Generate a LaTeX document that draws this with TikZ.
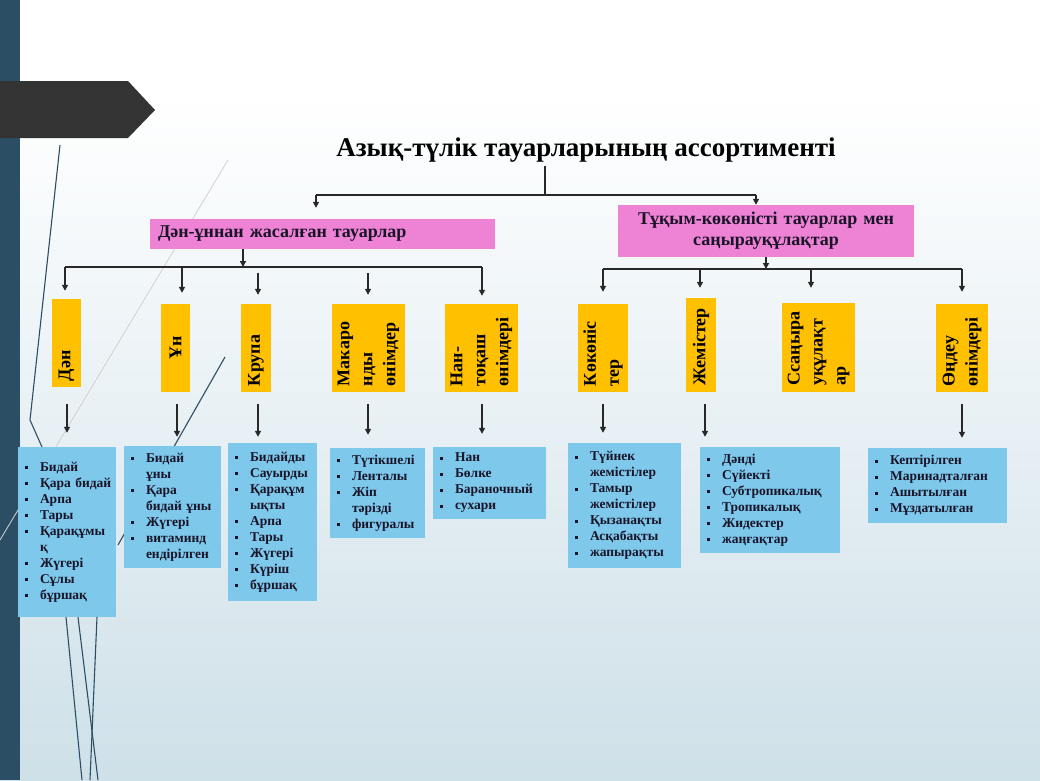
\documentclass[tikz,border=0pt]{standalone}
\usepackage{fontspec}
\setmainfont{Liberation Serif}
\usetikzlibrary{arrows.meta}
\definecolor{barc}{RGB}{44,78,100}
\definecolor{tagc}{RGB}{51,51,51}
\definecolor{pinkc}{RGB}{238,130,212}
\definecolor{orc}{RGB}{255,192,0}
\definecolor{bluec}{RGB}{125,200,235}
\definecolor{bgb}{RGB}{206,224,232}
\definecolor{txtc}{RGB}{25,20,40}
\definecolor{arrc}{RGB}{40,40,40}
\newcommand\bul{\rule[2pt]{3pt}{3pt}}
\newlength\indw \setlength\indw{15pt}
\newcommand\itm[1]{\makebox[\indw][l]{\bul}#1}
\newcommand\cnt[1]{\hspace*{\indw}#1}
\begin{document}
\begin{tikzpicture}[x=1pt,y=-1pt,
 arr/.style={draw=arrc, line width=1.4pt, -{Triangle[length=6pt,width=6pt]}},
 ln/.style={draw=arrc, line width=1.2pt},
 hdr/.style={fill=pinkc, inner sep=0pt, font=\fontsize{18}{21}\selectfont\bfseries, text=txtc},
 vbox/.style={fill=orc, rotate=90, inner xsep=6pt, inner ysep=0pt, font=\fontsize{18}{23}\selectfont\bfseries, align=left, text=black},
 lst/.style={fill=bluec, inner xsep=7pt, inner ysep=0pt, font=\fontsize{13.5}{16}\selectfont\bfseries, align=left, text=txtc},
 deco/.style={line width=1.1pt, draw=barc}
]
\useasboundingbox (0,0) rectangle (1040,780);
% background
\fill[white] (0,0) rectangle (1040,95);
\shade[top color=white, bottom color=bgb] (0,95) rectangle (1040,780);
\fill[barc] (0,0) rectangle (20,780);
\fill[tagc] (0,81) -- (128,81) -- (155,110) -- (128,138) -- (0,138) -- cycle;
% decorative lines
\draw[gray!35, line width=0.8pt] (228,160) -- (0,540);
\draw[deco] (60,145) -- (30,420) -- (42,447);
\draw[deco] (225,357) -- (118,545);
\draw[deco] (66,617) -- (82,780);
\draw[deco] (78,617) -- (98,780);
\draw[deco] (97,617) -- (90,780);

% title
\node[font=\fontsize{27}{31}\selectfont\bfseries, text=black] (title) at (586,150) {Азық-түлік тауарларының ассортименті};

% headers
\node[hdr, minimum width=345pt, minimum height=30pt, text width=329pt, inner xsep=8pt, align=left] (lhdr) at (322.5,234) {Дән-ұннан жасалған тауарлар};
\node[hdr, minimum width=296pt, minimum height=52pt, text width=290pt, align=center] (rhdr) at (766,231) {Тұқым-көкөністі тауарлар мен\\саңырауқұлақтар};

% vertical boxes (min width = box height, min height = box width)
\node[vbox, minimum width=88pt, minimum height=29pt, text width=76pt] (dan) at (66.5,343) {Дән};
\node[vbox, minimum width=88pt, minimum height=29pt, text width=76pt, align=center] (un) at (175.5,348) {Ұн};
\node[vbox, minimum width=88pt, minimum height=30pt, text width=76pt] (krupa) at (256,348) {Крупа};
\node[vbox, minimum width=88pt, minimum height=73pt, text width=76pt] (makaron) at (368.5,348) {Макаро\\нды\\өнімдер};
\node[vbox, minimum width=88pt, minimum height=73pt, text width=76pt] (nan) at (481.5,348) {Нан-\\тоқаш\\өнімдері};
\node[vbox, minimum width=88pt, minimum height=50pt, text width=76pt] (kok) at (603,348) {Көкөніс\\\hspace*{0pt}тер};
\node[vbox, minimum width=94pt, minimum height=30pt, text width=80pt] (zhem) at (701,345) {Жемістер};
\node[vbox, minimum width=89pt, minimum height=73pt, text width=76pt] (sany) at (818.5,347.5) {Ссаңыра\\уқұлақт\\ар};
\node[vbox, minimum width=88pt, minimum height=52pt, text width=76pt] (ondeu) at (962,348) {Өңдеу\\өнімдері};

% lists
\node[lst, minimum width=98pt, minimum height=170pt, text width=84pt] (l1) at (67,532)
 {\itm{Бидай}\\\itm{Қара~бидай}\\\itm{Арпа}\\\itm{Тары}\\\itm{Қарақұмы}\\\cnt{қ}\\\itm{Жүгері}\\\itm{Сұлы}\\\itm{бұршақ}};
\node[lst, minimum width=97pt, minimum height=122pt, text width=83pt] (l2) at (172.5,507)
 {\itm{Бидай}\\\cnt{ұны}\\\itm{Қара}\\\cnt{бидай~ұны}\\\itm{Жүгері}\\\itm{витаминд}\\\cnt{ендірілген}};
\node[lst, minimum width=89pt, minimum height=158pt, text width=75pt] (l3) at (272.5,522)
 {\itm{Бидайды}\\\itm{Сауырды}\\\itm{Қарақұм}\\\cnt{ықты}\\\itm{Арпа}\\\itm{Тары}\\\itm{Жүгері}\\\itm{Күріш}\\\itm{бұршақ}};
\node[lst, minimum width=95pt, minimum height=90pt, text width=81pt] (l4) at (377.5,493)
 {\itm{Түтікшелі}\\\itm{Ленталы}\\\itm{Жіп}\\\cnt{тәрізді}\\\itm{фигуралы}};
\node[lst, minimum width=113pt, minimum height=72pt, text width=99pt] (l5) at (489.5,483)
 {\itm{Нан}\\\itm{Бөлке}\\\itm{Бараночный}\\\itm{сухари}};
\node[lst, minimum width=113pt, minimum height=125pt, text width=99pt] (l6) at (624.5,505.5)
 {\itm{Түйнек}\\\cnt{жемістілер}\\\itm{Тамыр}\\\cnt{жемістілер}\\\itm{Қызанақты}\\\itm{Асқабақты}\\\itm{жапырақты}};
\node[lst, minimum width=140pt, minimum height=106pt, text width=126pt] (l7) at (770,500)
 {\itm{Дәнді}\\\itm{Сүйекті}\\\itm{Субтропикалық}\\\itm{Тропикалық}\\\itm{Жидектер}\\\itm{жаңғақтар}};
\node[lst, minimum width=139pt, minimum height=75pt, text width=125pt] (l8) at (937.5,485.5)
 {\itm{Кептірілген}\\\itm{Маринадталған}\\\itm{Ашытылған}\\\itm{Мұздатылған}};

% top-level connectors
\coordinate (tj) at (545,195);
\coordinate (tl) at (316,195);
\coordinate (tr) at (756,195);
\draw[ln] (title.south -| tj) -- (tj);
\draw[ln] (tl) -- (tr);
\draw[arr, shorten >=11pt] (tl) -- (tl |- lhdr.north);
\draw[arr] (tr) -- (tr |- rhdr.north);

% left branch
\coordinate (lj) at (243,267);
\coordinate (lb1) at (65,267);
\coordinate (lb5) at (482,267);
\draw[arr] (lhdr.south -| lj) -- (lj);
\draw[ln] (lb1) -- (lb5);
\draw[arr, shorten >=8pt] (lb1) -- (lb1 |- dan.east);
\coordinate (lb2) at (182,267);
\draw[arr, shorten >=11pt] (lb2) -- (lb2 |- un.east);
\coordinate (lb3) at (258,273);
\draw[arr, shorten >=9pt] (lb3) -- (lb3 |- krupa.east);
\coordinate (lb4) at (368,273);
\draw[arr, shorten >=9pt] (lb4) -- (lb4 |- makaron.east);
\draw[arr, shorten >=8pt] (lb5) -- (lb5 |- nan.east);

% right branch
\coordinate (rj) at (766,269);
\coordinate (rb1) at (603,269);
\coordinate (rb4) at (962,269);
\draw[arr] (rhdr.south -| rj) -- (rj);
\draw[ln] (rb1) -- (rb4);
\draw[arr, shorten >=12pt] (rb1) -- (rb1 |- kok.east);
\coordinate (rb2) at (700,269);
\draw[arr, shorten >=10pt] (rb2) -- (rb2 |- zhem.east);
\coordinate (rb3) at (811,269);
\draw[arr, shorten >=15pt] (rb3) -- (rb3 |- sany.east);
\draw[arr, shorten >=12pt] (rb4) -- (rb4 |- ondeu.east);

% arrows to lists
\coordinate (d1) at (67,404);
\draw[arr, shorten >=14pt] (d1) -- (d1 |- l1.north);
\coordinate (d2) at (177,404);
\draw[arr, shorten >=9pt] (d2) -- (d2 |- l2.north);
\coordinate (d3) at (258,404);
\draw[arr, shorten >=6pt] (d3) -- (d3 |- l3.north);
\coordinate (d4) at (368,404);
\draw[arr, shorten >=13pt] (d4) -- (d4 |- l4.north);
\coordinate (d5) at (482,404);
\draw[arr, shorten >=13pt] (d5) -- (d5 |- l5.north);
\coordinate (d6) at (603,404);
\draw[arr, shorten >=10pt] (d6) -- (d6 |- l6.north);
\coordinate (d7) at (705,404);
\draw[arr, shorten >=10pt] (d7) -- (d7 |- l7.north);
\coordinate (d8) at (962,404);
\draw[arr, shorten >=10pt] (d8) -- (d8 |- l8.north);
\end{tikzpicture}
\end{document}
